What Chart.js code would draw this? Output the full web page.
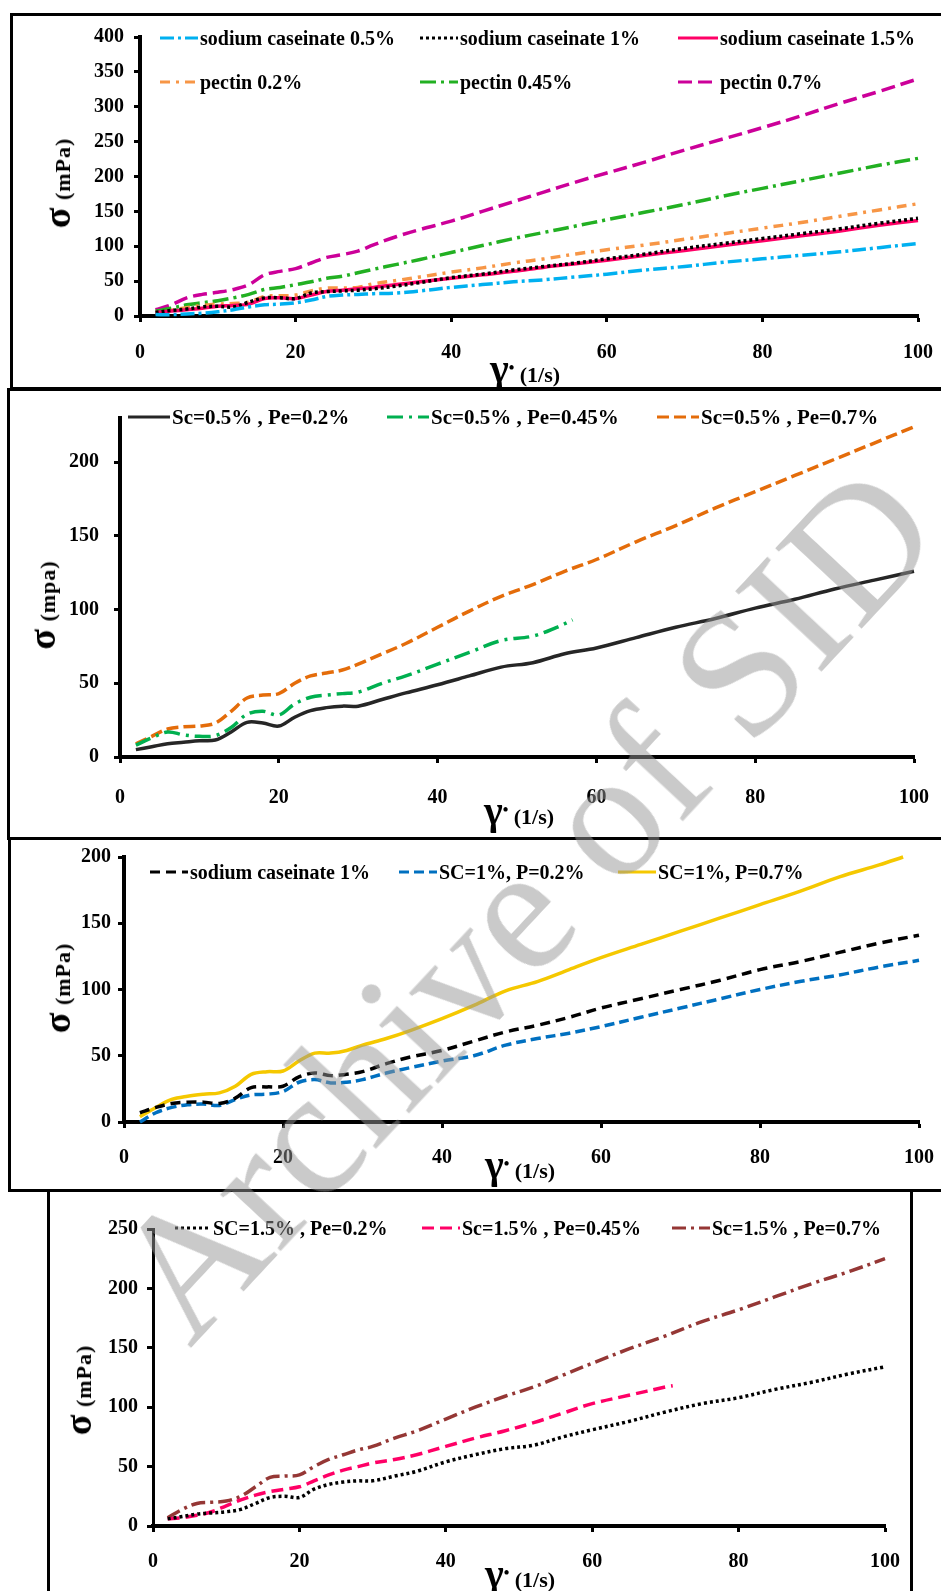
<!DOCTYPE html>
<html>
<head>
<meta charset="utf-8">
<script src="https://cdn.jsdelivr.net/npm/chart.js@4.4.1/dist/chart.umd.min.js"></script>
<style>
  html, body { margin: 0; padding: 0; background: #fff; }
  #page { position: relative; width: 941px; height: 1591px; overflow: hidden; background: #fff;
          font-family: "Liberation Serif", "Times New Roman", serif; font-weight: bold; color: #000; }
  .frame { position: absolute; border: 3px solid #000; box-sizing: border-box; }
  canvas { position: absolute; }
  .leg { position: absolute; display: flex; align-items: center; white-space: nowrap; font-size: 20px; line-height: 20px; }
  .leg.big { font-size: 21px; }
  .leg svg { margin-right: 2px; }
  .ytitle { position: absolute; white-space: nowrap; transform: translate(-50%, -50%) rotate(-90deg); font-size: 22px; letter-spacing: 1px; }
  .ytitle b { font-size: 38px; }
  .xtitle { position: absolute; white-space: nowrap; transform: translate(-50%, -50%); font-size: 22px; }
  .xtitle b { font-size: 40px; }
  .xtitle sup { font-size: 16px; }
  #wm { position: absolute; left: 524px; top: 902px; transform: translate(-50%, -50%) rotate(-47deg);
        font-size: 180px; font-weight: normal; white-space: nowrap; color: rgba(150,150,150,0.5);
        pointer-events: none; z-index: 10; }
</style>
</head>
<body>
<div id="page">
  <div class="frame" style="left:10px; top:13px; width:945px; height:377px;"></div>
  <div class="frame" style="left:7px; top:388px; width:950px; height:452px;"></div>
  <div class="frame" style="left:8px; top:837px; width:950px; height:355px;"></div>
  <div class="frame" style="left:47px; top:1189px; width:866px; height:420px;"></div>

  <canvas id="c1"></canvas>
  <canvas id="c2"></canvas>
  <canvas id="c3"></canvas>
  <canvas id="c4"></canvas>

  <div id="legends"></div>

  <div class="ytitle" style="left:57px; top:183px;"><b>σ</b> (mPa)</div>
  <div class="xtitle" style="left:525px; top:368px;"><b>γ</b><sup>•</sup> (1/s)</div>
  <div class="ytitle" style="left:42px; top:605px;"><b>σ</b> (mpa)</div>
  <div class="xtitle" style="left:519px; top:810px;"><b>γ</b><sup>•</sup> (1/s)</div>
  <div class="ytitle" style="left:57px; top:988px;"><b>σ</b> (mPa)</div>
  <div class="xtitle" style="left:520px; top:1164px;"><b>γ</b><sup>•</sup> (1/s)</div>
  <div class="ytitle" style="left:78px; top:1390px;"><b>σ</b> (mPa)</div>
  <div class="xtitle" style="left:520px; top:1573px;"><b>γ</b><sup>•</sup> (1/s)</div>

  <div id="wm">Archive of SID</div>
</div>

<script>
// shear rate (1/s) shared by most series
const shearRate = [2,4,6,8,10,12,14,16,18,20,22,24,26,28,30,33,36,40,44,48,52,56,60,65,70,75,80,85,90,95,100];
const xTicks = [0,20,40,60,80,100];

// panel 1: single components
const sc05  = [2,2,3,4,6,9,13,16,17,19,23,28,30,31,32,33,36,41,45,49,52,56,60,66,71,77,82,87,92,98,104];
const sc1   = [5,8,10,13,14,13,20,26,26,25,33,35,36,37,39,43,48,55,60,66,71,76,82,89,97,104,111,118,125,133,140];
const sc15  = [5,7,9,11,14,15,17,25,26,25,30,35,37,39,41,45,49,54,59,64,70,75,80,87,94,101,108,115,122,130,137];
const pe02  = [3,8,12,15,17,18,20,28,29,30,36,40,40,41,46,51,56,63,69,76,82,89,95,102,110,118,126,134,143,152,161];
const pe045 = [7,11,16,19,22,26,31,38,41,45,49,54,57,62,67,74,81,91,101,111,120,129,138,149,160,172,183,194,205,216,226];
const pe07  = [9,16,26,31,34,38,45,59,64,68,76,84,88,93,102,114,124,136,150,164,178,192,205,221,238,254,270,287,305,322,340];

// panel 2: Sc 0.5%
const sc05pe02  = [5,7,9,10,11,11.5,17,23.5,23,21,27,31.5,33.5,34.5,34.5,39,43.5,49,55,61,64,70,74,81,88,94,101,107,114,120,126];
const sc05pe045X = [2,4,6,8,10,12,14,16,18,20,22,24,26,28,30,33,36,40,44,48,52,55,57];
const sc05pe045 = [8,13,17,15,14,14.5,20,29,31,28.5,36,40.5,42,43,44,50,55,63,71,79,82,88,93];
const sc05pe07  = [9,14,19,20.5,21,23,31,40,42,43,50,55,57,59,63,70,77,88,99,109,117,126,134,146,157,169,180,191,202,213,224];

// panel 3: Sc 1%
const sc1only = [7,11,14,15,15,14,18,26,26.5,27,34,37,35,36,38,44,49,54,61,68,73,79,86,93,100,107,115,121,128,135,141];
const sc1p02  = [0,7,11,13,13.5,12.5,17,20.5,21,23,30,32,29.5,30,32,37,41,46,50,58,63,67,72,79,86,93,100,106,111,117,122];
const sc1p07X = [2,4,6,8,10,12,14,16,18,20,22,24,26,28,30,33,36,40,44,48,52,56,60,65,70,75,80,85,90,95,98];
const sc1p07  = [4,11,17,19.5,21,22,27,36,38,38.5,46,52,52,54,58,63,69,78,88,99,106,115,124,134,144,154,164,174,185,194,200];

// panel 4: Sc 1.5%
const sc15pe02  = [6,8,10,11,12,14,19,24,25,24,31,35,37,38,38,42,46,54,60,65,68,75,81,88,96,103,108,115,121,128,134];
const sc15pe045X = [2,4,6,8,10,12,14,16,18,20,22,24,26,28,30,33,36,40,44,48,52,56,60,65,70,71];
const sc15pe045 = [6,7,9,12,17,22,26,29,31,33,38,43,47,50,53,56,60,67,74,80,87,95,103,110,117,118];
const sc15pe07  = [7,14,19,20,21,25,33,41,42,43,50,56,60,64,67,74,80,90,100,109,117,127,137,149,160,172,182,193,204,214,225];

const pts = (xs, ys) => xs.map((x, i) => ({ x: x, y: ys[i] }));

const font = { family: "'Liberation Serif', 'Times New Roman', serif", weight: "bold", size: 20 };

function series(label, xs, ys, color, dash) {
  return {
    label: label,
    data: pts(xs, ys),
    borderColor: color,
    borderWidth: 3.5,
    borderDash: dash,
    pointRadius: 0,
    tension: 0.35,
    fill: false,
    clip: false
  };
}

// g = axis box in page pixels, yPad/xPad = gaps between tick marks and labels
function makeChart(id, g, yMax, yPad, xPad, yBorder, datasets) {
  const YW = 90, XH = 60, PT = 14, PR = 30;
  const cv = document.getElementById(id);
  cv.width = g.right - g.left + YW + PR;
  cv.height = g.bottom - g.top + PT + XH;
  cv.style.left = (g.left - YW) + "px";
  cv.style.top = (g.top - PT) + "px";
  const axisGrid = { display: true, drawOnChartArea: false, drawTicks: true, tickLength: 6, tickWidth: 3, tickColor: "#000", color: "#000" };
  return new Chart(cv, {
    type: "line",
    data: { datasets: datasets },
    options: {
      responsive: false,
      animation: false,
      devicePixelRatio: 1,
      layout: { padding: { top: PT, right: PR, left: 0, bottom: 0 } },
      plugins: { legend: { display: false }, tooltip: { enabled: false } },
      scales: {
        x: {
          type: "linear", min: 0, max: 100,
          afterFit: s => { s.height = XH; },
          afterBuildTicks: s => { s.ticks = xTicks.map(v => ({ value: v })); },
          ticks: { color: "#000", font: font, padding: xPad, maxRotation: 0 },
          grid: axisGrid,
          border: { display: true, color: "#000", width: 4 }
        },
        y: {
          type: "linear", min: 0, max: yMax,
          afterFit: s => { s.width = YW; },
          ticks: { color: "#000", font: font, padding: yPad, stepSize: 50, includeBounds: false },
          grid: axisGrid,
          border: { display: true, color: "#000", width: yBorder }
        }
      }
    }
  });
}

makeChart("c1", { left: 140, right: 922, top: 29, bottom: 316 }, 400, 10, 19, 4, [
  series("sodium caseinate 0.5%", shearRate, sc05, "#00b0f0", [14, 4, 3, 4]),
  series("sodium caseinate 1%", shearRate, sc1, "#000000", [3, 3]),
  series("sodium caseinate 1.5%", shearRate, sc15, "#ff0066", []),
  series("pectin 0.2%", shearRate, pe02, "#f79646", [10, 6, 3, 6]),
  series("pectin 0.45%", shearRate, pe045, "#22b022", [16, 5, 3, 5]),
  series("pectin 0.7%", shearRate, pe07, "#cc0099", [14, 6])
]);

makeChart("c2", { left: 120, right: 922, top: 405, bottom: 757 }, 230, 15, 23, 4, [
  series("Sc=0.5% , Pe=0.2%", shearRate, sc05pe02, "#262626", []),
  series("Sc=0.5% , Pe=0.45%", sc05pe045X, sc05pe045, "#00b050", [16, 6, 3, 6]),
  series("Sc=0.5% , Pe=0.7%", shearRate, sc05pe07, "#e46c0a", [12, 5])
]);

makeChart("c3", { left: 124, right: 922, top: 852, bottom: 1122 }, 200, 7, 18, 4, [
  series("sodium caseinate 1%", shearRate, sc1only, "#000000", [10, 6]),
  series("SC=1%, P=0.2%", shearRate, sc1p02, "#0070c0", [10, 5]),
  series("SC=1%, P=0.7%", sc1p07X, sc1p07, "#f5c800", [])
]);

makeChart("c4", { left: 153, right: 888, top: 1222, bottom: 1526 }, 250, 9, 18, 3, [
  series("SC=1.5% , Pe=0.2%", shearRate, sc15pe02, "#000000", [3, 3]),
  series("Sc=1.5% , Pe=0.45%", sc15pe045X, sc15pe045, "#ff0066", [12, 6]),
  series("Sc=1.5% , Pe=0.7%", shearRate, sc15pe07, "#953735", [14, 5, 3, 5])
]);

// html legends: [left, centerY, sample width, text, colour, dash, bigger text]
const legendItems = [
  [160, 38, 38, "sodium caseinate 0.5%", "#00b0f0", "14 4 3 4", false],
  [420, 38, 38, "sodium caseinate 1%", "#000000", "3 3", false],
  [678, 38, 40, "sodium caseinate 1.5%", "#ff0066", "", false],
  [160, 82, 38, "pectin 0.2%", "#f79646", "10 6 3 6", false],
  [420, 82, 38, "pectin 0.45%", "#22b022", "16 5 3 5", false],
  [678, 82, 40, "pectin 0.7%", "#cc0099", "14 6", false],
  [128, 417, 42, "Sc=0.5% , Pe=0.2%", "#262626", "", true],
  [387, 417, 42, "Sc=0.5% , Pe=0.45%", "#00b050", "16 6 3 6", true],
  [657, 417, 42, "Sc=0.5% , Pe=0.7%", "#e46c0a", "12 5", true],
  [150, 872, 38, "sodium caseinate 1%", "#000000", "10 6", false],
  [399, 872, 38, "SC=1%, P=0.2%", "#0070c0", "10 5", false],
  [618, 872, 38, "SC=1%, P=0.7%", "#f5c800", "", false],
  [175, 1228, 36, "SC=1.5% , Pe=0.2%", "#000000", "3 3", false],
  [422, 1228, 38, "Sc=1.5% , Pe=0.45%", "#ff0066", "12 6", false],
  [672, 1228, 38, "Sc=1.5% , Pe=0.7%", "#953735", "14 5 3 5", false]
];
const legendBox = document.getElementById("legends");
legendItems.forEach(([x, y, w, text, color, dash, big]) => {
  const d = document.createElement("div");
  d.className = big ? "leg big" : "leg";
  d.style.left = x + "px";
  d.style.top = (y - 10) + "px";
  d.innerHTML = `<svg width="${w}" height="6"><line x1="0" y1="3" x2="${w}" y2="3" stroke="${color}" stroke-width="3" stroke-dasharray="${dash}"/></svg><span>${text}</span>`;
  legendBox.appendChild(d);
});
</script>
</body>
</html>
